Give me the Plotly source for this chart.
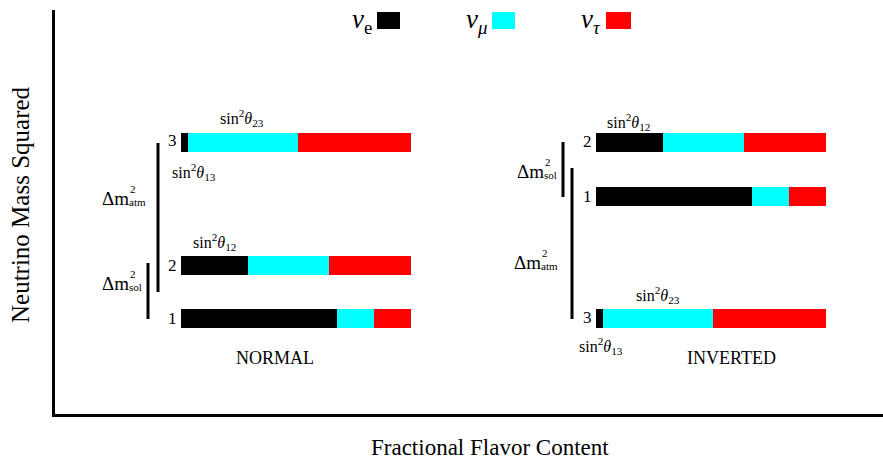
import plotly.graph_objects as go

# ---- data ----
states = ["1", "2", "3"]
nu_e = [0.68, 0.29, 0.03]      # fractional electron flavor content per mass state
nu_mu = [0.16, 0.355, 0.48]
nu_tau = [0.16, 0.355, 0.49]
normal_levels = [96, 148.5, 271.5]     # relative mass-squared positions (normal)
inverted_levels = [218, 271.5, 96]     # relative mass-squared positions (inverted)
flavor_names = ["ν<sub>e</sub>", "ν<sub><i>μ</i></sub>", "ν<sub><i>τ</i></sub>"]
flavor_colors = ["#000000", "#00ffff", "#ff0000"]

W, H = 883, 459
L, T, B = 55, 10, 45
PW, PH = W - L, H - T - B


def px(x):
    return (x - L) / PW


def pyp(y):
    return ((H - B) - y) / PH


FONT = "Liberation Serif"
fig = go.Figure()

# invisible trace so the full-width frame axis is drawn
fig.add_trace(go.Scatter(x=[None], y=[None], xaxis="x", yaxis="y", showlegend=False,
                         hoverinfo="skip"))

for fl, col, vals in zip(flavor_names, flavor_colors, [nu_e, nu_mu, nu_tau]):
    fig.add_trace(go.Bar(x=vals, y=normal_levels, orientation="h", width=19,
                         marker=dict(color=col, line=dict(width=0)),
                         xaxis="x2", yaxis="y", showlegend=False, name=fl))
    fig.add_trace(go.Bar(x=vals, y=inverted_levels, orientation="h", width=19,
                         marker=dict(color=col, line=dict(width=0)),
                         xaxis="x3", yaxis="y", showlegend=False, name=fl))

ann = []


def txt(x, y, s, size=15, xa="center", ya="middle", angle=0):
    ann.append(dict(x=px(x), y=pyp(y), xref="paper", yref="paper", text=s, showarrow=False,
                    xanchor=xa, yanchor=ya, textangle=angle, borderpad=0,
                    font=dict(family=FONT, size=size, color="black")))


# mass state labels
for lvl_y, s in zip([318, 265, 141], states):
    txt(172, lvl_y, s, 17)
for lvl_y, s in zip([196, 142, 317], states):
    txt(587, lvl_y, s, 17)

sin12 = "sin<sup>2</sup><i>θ</i><sub>12</sub>"
sin13 = "sin<sup>2</sup><i>θ</i><sub>13</sub>"
sin23 = "sin<sup>2</sup><i>θ</i><sub>23</sub>"
txt(242, 118, sin23, 16)
txt(194, 172, sin13, 16)
txt(214, 242, sin12, 16)
txt(628, 122, sin12, 16)
txt(658, 295, sin23, 16)
txt(601, 346, sin13, 16)

txt(275, 358, "NORMAL", 18)
txt(731, 358, "INVERTED", 18)


def dm(xr, yc, sub):
    txt(xr, yc, "Δm", 19, xa="right")
    txt(xr - 1, yc - 9, "2", 11, xa="left")
    txt(xr - 2, yc + 4, sub, 11, xa="left")


dm(130, 198, "atm")
dm(130, 283, "sol")
dm(545, 171, "sol")
dm(542, 262, "atm")

# axis titles
txt(490, 447, "Fractional Flavor Content", 23)
txt(20, 205, "Neutrino Mass Squared", 25, angle=-90)

# legend
shapes = []
sq = [(377, 400), (492, 515), (606, 631)]
for (x0, x1), name, col in zip(sq, flavor_names, flavor_colors):
    shapes.append(dict(type="rect", xref="paper", yref="paper", x0=px(x0), x1=px(x1),
                       y0=pyp(12), y1=pyp(29), fillcolor=col, line=dict(width=0)))
    ann.append(dict(x=px(x0 - 3), y=pyp(21), xref="paper", yref="paper",
                    text="<i>ν</i>" + name[1:], showarrow=False, xanchor="right",
                    yanchor="middle", font=dict(family=FONT, size=27, color="black")))

# brackets
for x, y0, y1 in [(158, 143, 292), (148, 263, 319), (563, 142, 197), (572, 168, 319)]:
    shapes.append(dict(type="line", xref="paper", yref="paper", x0=px(x), x1=px(x),
                       y0=pyp(y0), y1=pyp(y1), line=dict(color="black", width=3)))

fig.update_layout(
    width=W, height=H, margin=dict(l=L, r=0, t=T, b=B),
    paper_bgcolor="white", plot_bgcolor="white", barmode="stack",
    annotations=ann, shapes=shapes,
    xaxis=dict(domain=[0, 1], range=[0, 1], anchor="y", showline=True, linecolor="black",
               linewidth=3, showticklabels=False, ticks="", showgrid=False, zeroline=False),
    xaxis2=dict(domain=[px(181), px(411)], range=[0, 1], anchor="y", visible=False),
    xaxis3=dict(domain=[px(596), px(826)], range=[0, 1], anchor="y", visible=False),
    yaxis=dict(range=[0, PH], anchor="x", showline=True, linecolor="black", linewidth=3,
               showticklabels=False, ticks="", showgrid=False, zeroline=False),
)

fig.write_html("out.html")
